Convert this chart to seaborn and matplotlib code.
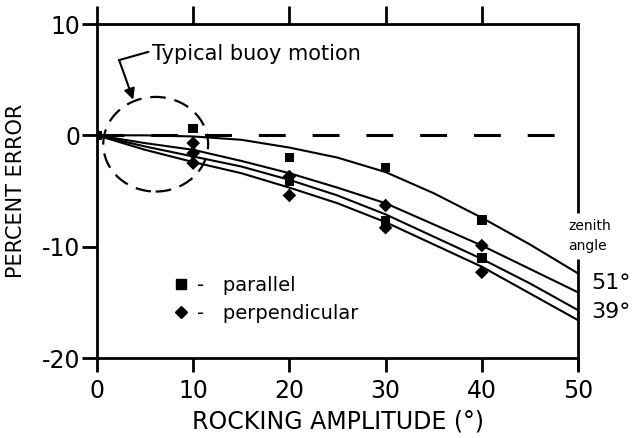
import matplotlib
matplotlib.use("Agg")
import matplotlib.pyplot as plt
import numpy as np
import pandas as pd
import seaborn as sns
from matplotlib.patches import Ellipse
from matplotlib.lines import Line2D

# ---------------- data ----------------
amplitude = [0, 5, 10, 15, 20, 25, 30, 35, 40, 45, 50]
curve_a = [0, 0.0, -0.1, -0.4, -1.1, -2.0, -3.3, -5.2, -7.4, -9.8, -12.4]
curve_b = [0, -0.7, -1.3, -2.3, -3.4, -4.7, -6.1, -8.0, -9.9, -12.0, -14.1]
curve_c = [0, -1.0, -1.9, -2.8, -4.0, -5.4, -7.1, -9.1, -11.1, -13.3, -15.7]
curve_d = [0, -1.3, -2.4, -3.4, -4.7, -6.1, -7.8, -9.8, -11.8, -14.2, -16.6]

parallel_x = [0, 10, 20, 20, 30, 30, 40, 40]
parallel_y = [0, 0.6, -2.0, -4.1, -2.9, -7.7, -7.6, -11.0]
perpendicular_x = [0, 10, 10, 10, 20, 20, 30, 30, 40, 40]
perpendicular_y = [0, -0.7, -1.6, -2.5, -3.7, -5.4, -6.3, -8.3, -9.9, -12.3]

x_ticks = [0, 10, 20, 30, 40, 50]
top_ticks = [0, 10, 20, 30, 40]
y_ticks = [-20, -10, 0, 10]
zenith_labels = ["51°", "39°"]
legend_labels = ["-   parallel", "-   perpendicular"]

# ---------------- style ----------------
sns.set_theme(style="ticks")
plt.rcParams['font.family'] = ['DejaVu Sans']
plt.rcParams['axes.unicode_minus'] = False
plt.rcParams['text.color'] = 'black'
plt.rcParams['axes.labelcolor'] = 'black'
plt.rcParams['xtick.color'] = 'black'
plt.rcParams['ytick.color'] = 'black'
plt.rcParams['xtick.labelcolor'] = 'black'
plt.rcParams['ytick.labelcolor'] = 'black'

fig = plt.figure(figsize=(6.35, 4.38), dpi=100)
ax = fig.add_axes([97/635, 1 - 358/438, (578 - 97)/635, (358 - 24)/438])

curves = pd.DataFrame({
    "amp": amplitude * 4,
    "err": curve_a + curve_b + curve_c + curve_d,
    "curve": ["a"] * 11 + ["b"] * 11 + ["c"] * 11 + ["d"] * 11,
})
sns.lineplot(data=curves, x="amp", y="err", units="curve", estimator=None,
             color="black", lw=1.5, ax=ax)

points = pd.DataFrame({
    "amp": parallel_x + perpendicular_x,
    "err": parallel_y + perpendicular_y,
    "orientation": ["parallel"] * len(parallel_x) + ["perpendicular"] * len(perpendicular_x),
})
sns.scatterplot(data=points, x="amp", y="err", style="orientation",
                markers={"parallel": "s", "perpendicular": "D"},
                color="black", s=48, linewidth=0, legend=False, ax=ax, zorder=5)

# dashed zero reference line
ax.axhline(0, color="black", lw=2.2, dashes=(8.8, 8.8), zorder=3)

# typical buoy motion ellipse + annotation
ax.add_patch(Ellipse((6.1, -0.8), 10.9, 8.5, fill=False, ec="black", lw=1.6,
                     ls=(0, (7, 4)), zorder=4))
ax.text(5.7, 7.35, "Typical buoy motion", fontsize=15, va="center", ha="left")
ax.plot([5.35, 2.3], [7.5, 6.76], color="black", lw=1.5)
ax.annotate("", xy=(3.77, 3.2), xytext=(2.3, 6.76),
            arrowprops=dict(arrowstyle="-|>", color="black", lw=1.5,
                            mutation_scale=16, shrinkA=0, shrinkB=0))

# axes limits and ticks
ax.set_xlim(0, 50)
ax.set_ylim(-20, 10)
ax.set_xticks(x_ticks)
ax.set_yticks(y_ticks)
ax.set_yticklabels([str(v) for v in y_ticks])
ax.tick_params(axis="x", direction="out", length=10, width=2, labelsize=17, pad=5, color="black")
ax.tick_params(axis="y", direction="out", length=11, width=2, labelsize=17, pad=1, color="black")

sec = ax.secondary_xaxis("top")
sec.set_xticks(top_ticks)
sec.tick_params(axis="x", direction="out", length=13, width=2, labelsize=0, labeltop=False, color="black")
sec.spines["top"].set_visible(False)

for s in ["left", "bottom", "top"]:
    ax.spines[s].set_linewidth(2)
    ax.spines[s].set_color("black")
ax.spines["right"].set_visible(False)
for y0, y1 in [(1.0, 0.434), (0.296, -0.035)]:
    ax.add_line(Line2D([1, 1], [y0, y1], transform=ax.transAxes, color="black",
                       lw=2, clip_on=False, solid_capstyle="butt"))

ax.set_xlabel("ROCKING AMPLITUDE (°)", fontsize=17)
ax.xaxis.set_label_coords(0.5, -0.155)
ax.set_ylabel("PERCENT ERROR", fontsize=15)
ax.yaxis.set_label_coords(-0.148, 0.5)

# zenith angle labels
ax.text(51.2, -8.1, "zenith", fontsize=10, ha="center", va="center", clip_on=False)
ax.text(50.95, -9.9, "angle", fontsize=10, ha="center", va="center", clip_on=False)
ax.text(51.4, -13.3, zenith_labels[0], fontsize=16, ha="left", va="center", clip_on=False)
ax.text(51.4, -15.9, zenith_labels[1], fontsize=16, ha="left", va="center", clip_on=False)

# legend
handles = [Line2D([], [], marker="s", ls="", color="black", ms=6.5),
           Line2D([], [], marker="D", ls="", color="black", ms=6)]
ax.legend(handles, legend_labels, loc="upper left", bbox_to_anchor=(0.154, 0.245),
          frameon=False, fontsize=14, handlelength=1.0, handletextpad=0.35,
          labelspacing=0.43, borderpad=0, borderaxespad=0)

fig.savefig("out.png", dpi=100, facecolor="white")
